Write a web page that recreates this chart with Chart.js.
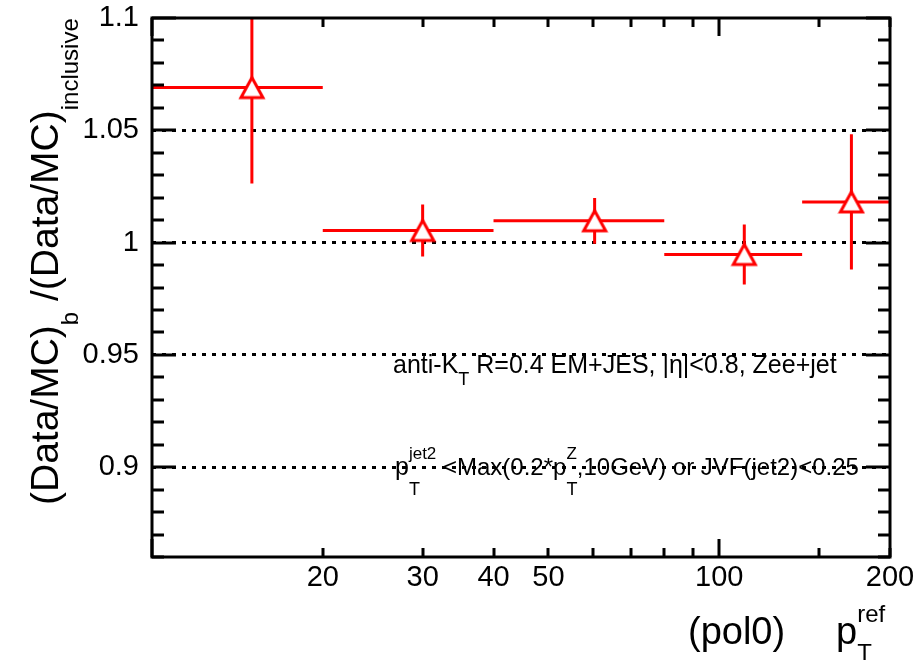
<!DOCTYPE html>
<html lang="en">
<head>
<meta charset="UTF-8" />
<title>(Data/MC)b / (Data/MC)inclusive vs pT ref</title>
<script src="https://cdn.jsdelivr.net/npm/chart.js"></script>
<style>
  html, body { margin: 0; padding: 0; background: #fff; }
  #wrap { width: 920px; height: 660px; }
</style>
</head>
<body>
<div id="wrap"><canvas id="ratioChart" width="920" height="660"></canvas></div>
<script>
// pT ref bins (GeV) and the double ratio with its stat. error
const binLow   = [10, 20, 40, 80, 140];
const binHigh  = [20, 40, 80, 140, 200];
const binMean  = [15.0, 30.0, 60.3, 110.7, 171.0];
const ratio    = [1.0690, 1.0054, 1.0097, 0.9947, 1.0181];
const ratioErr = [0.0427, 0.0116, 0.0102, 0.0134, 0.0301];

// ticks that carry a label, and the dotted reference lines
const xTickLabels = [20, 30, 40, 50, 100, 200];
const yTickLabels = [0.9, 0.95, 1, 1.05, 1.1];
const yGridLines  = [0.9, 0.95, 1, 1.05];

const FONT = '"Liberation Sans", Arial, Helvetica, sans-serif';
const RED = '#ff0000';

function near(v, list) {
  return list.some(l => Math.abs(l - v) < 1e-6);
}

// open triangle, white inside so the error bars stop at its edge
function triangleMarker() {
  const c = document.createElement('canvas');
  c.width = 28; c.height = 26;
  const g = c.getContext('2d');
  g.lineWidth = 3;
  g.strokeStyle = RED;
  g.fillStyle = '#fff';
  g.beginPath();
  g.moveTo(14, 3); g.lineTo(25, 23); g.lineTo(3, 23); g.closePath();
  g.fill();
  g.stroke();
  return c;
}

// error bar segments, null breaks the line between bins
const xErrData = [];
const yErrData = [];
binMean.forEach((m, i) => {
  xErrData.push({ x: binLow[i], y: ratio[i] }, { x: binHigh[i], y: ratio[i] }, { x: binHigh[i], y: null });
  yErrData.push({ x: m, y: ratio[i] - ratioErr[i] }, { x: m, y: ratio[i] + ratioErr[i] }, { x: m, y: null });
});

// draws a run of text pieces (sub/superscripts via dy)
function drawRuns(ctx, runs, x0, y0) {
  let x = x0;
  runs.forEach(r => {
    ctx.font = r.size + 'px ' + FONT;
    ctx.fillText(r.t, x, y0 + (r.dy || 0));
    if (!r.stack) x += ctx.measureText(r.t).width;
  });
}

// frame with inward ticks on all four sides
const framePlugin = {
  id: 'frame',
  afterDatasetsDraw(chart) {
    const { ctx, chartArea: a, scales: { x, y } } = chart;
    ctx.save();
    ctx.strokeStyle = '#000';
    ctx.lineWidth = 3;
    ctx.beginPath();
    y.ticks.forEach(t => {
      const py = Math.round(y.getPixelForValue(t.value));
      const len = near(t.value, yTickLabels) ? 24 : 12;
      ctx.moveTo(a.left, py); ctx.lineTo(a.left + len, py);
      ctx.moveTo(a.right, py); ctx.lineTo(a.right - len, py);
    });
    x.ticks.forEach(t => {
      const px = Math.round(x.getPixelForValue(t.value));
      const lg = Math.log10(t.value);
      const len = Math.abs(lg - Math.round(lg)) < 1e-9 ? 18 : 9;
      ctx.moveTo(px, a.bottom); ctx.lineTo(px, a.bottom - len);
      ctx.moveTo(px, a.top); ctx.lineTo(px, a.top + len);
    });
    ctx.stroke();
    ctx.strokeRect(a.left, a.top, a.right - a.left, a.bottom - a.top);
    ctx.restore();
  }
};

// axis titles and the selection text
const textPlugin = {
  id: 'texts',
  afterDraw(chart) {
    const ctx = chart.ctx;
    ctx.save();
    ctx.fillStyle = '#000';
    ctx.textAlign = 'left';
    ctx.textBaseline = 'alphabetic';

    drawRuns(ctx, [
      { t: 'anti-K', size: 25 },
      { t: 'T', size: 18, dy: 12 },
      { t: ' R=0.4 EM+JES, |\u03b7|<0.8, Zee+jet', size: 25 }
    ], 393, 373);

    drawRuns(ctx, [
      { t: 'p', size: 25 },
      { t: 'T', size: 18, dy: 20, stack: true },
      { t: 'jet2', size: 17, dy: -16 },
      { t: ' <Max(0.2*p', size: 24 },
      { t: 'T', size: 18, dy: 20, stack: true },
      { t: 'Z', size: 17, dy: -16 },
      { t: ',10GeV) or JVF(jet2)<0.25', size: 24 }
    ], 395, 475);

    drawRuns(ctx, [{ t: '(pol0)', size: 38 }], 688, 644);
    drawRuns(ctx, [
      { t: 'p', size: 38 },
      { t: 'T', size: 24, dy: 17, stack: true },
      { t: 'ref', size: 24, dy: -22 }
    ], 836, 644);

    ctx.translate(58, 505);
    ctx.rotate(-Math.PI / 2);
    drawRuns(ctx, [
      { t: '(Data/MC)', size: 39 },
      { t: 'b', size: 24, dy: 20 },
      { t: ' /(Data/MC)', size: 39 },
      { t: 'inclusive', size: 24, dy: 20 }
    ], 0, 0);
    ctx.restore();
  }
};

const chart = new Chart(document.getElementById('ratioChart'), {
  type: 'scatter',
  data: {
    datasets: [
      {
        label: 'ratio',
        data: binMean.map((m, i) => ({ x: m, y: ratio[i] })),
        pointStyle: triangleMarker(),
        pointRadius: 12,
        showLine: false,
        order: 0
      },
      {
        label: 'x err',
        data: xErrData,
        showLine: true,
        borderColor: RED,
        borderWidth: 3,
        pointRadius: 0,
        order: 1
      },
      {
        label: 'y err',
        data: yErrData,
        showLine: true,
        borderColor: RED,
        borderWidth: 3,
        pointRadius: 0,
        order: 1
      }
    ]
  },
  options: {
    responsive: false,
    animation: false,
    events: [],
    layout: { autoPadding: false, padding: { top: 18, right: 30, left: 0, bottom: 0 } },
    plugins: {
      legend: { display: false },
      tooltip: { enabled: false }
    },
    scales: {
      x: {
        type: 'logarithmic',
        min: 10,
        max: 200,
        grid: { display: false, drawTicks: false },
        border: { display: false },
        ticks: {
          autoSkip: false,
          maxRotation: 0,
          padding: 4,
          color: '#000',
          font: { family: FONT, size: 29 },
          callback: v => near(v, xTickLabels) ? String(v) : ''
        },
        afterFit: s => {
          s.height = 103;
          s.paddingLeft = 0; s.paddingRight = 0;
        }
      },
      y: {
        min: 0.86,
        max: 1.1,
        grid: {
          drawTicks: false,
          lineWidth: 3,
          color: c => near(c.tick.value, yGridLines) ? '#000' : 'rgba(0,0,0,0)'
        },
        border: { display: false, dash: [4, 6] },
        ticks: {
          stepSize: 0.01,
          autoSkip: false,
          padding: 13,
          color: '#000',
          font: { family: FONT, size: 29 },
          callback: v => near(v, yTickLabels) ? String(+v.toFixed(2)) : ''
        },
        afterFit: s => {
          s.width = 152;
          s.paddingTop = 0; s.paddingBottom = 0;
        }
      }
    }
  },
  plugins: [framePlugin, textPlugin]
});
</script>
</body>
</html>
